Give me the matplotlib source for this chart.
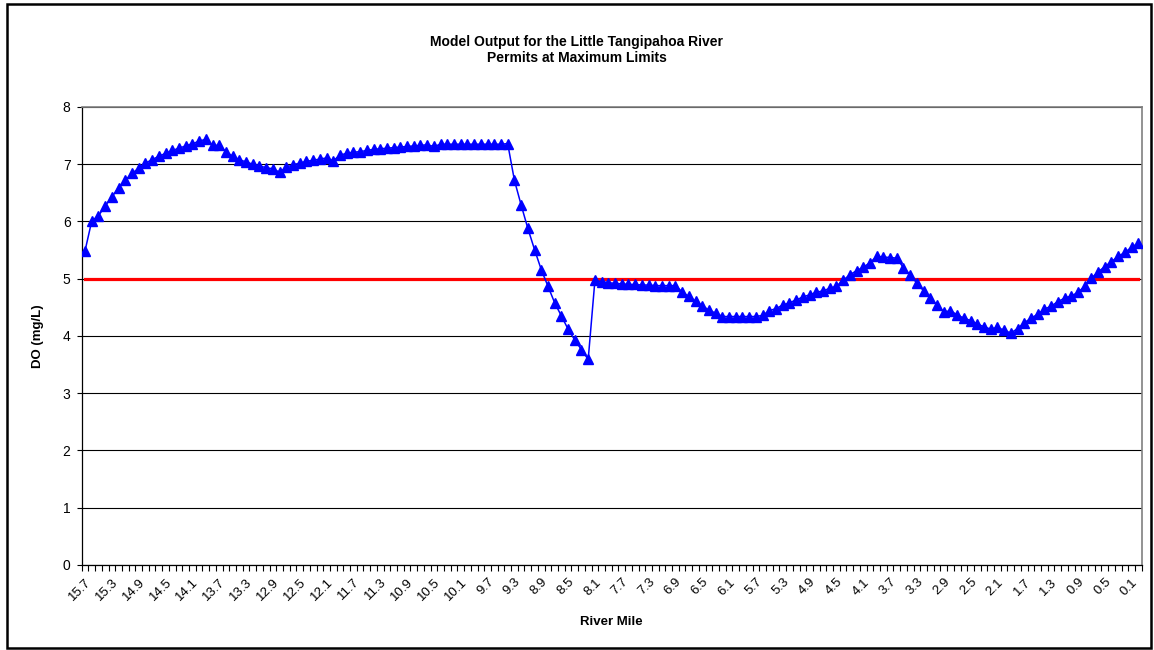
import matplotlib.pyplot as plt
from matplotlib.patches import Rectangle
import numpy as np

plt.rcParams['font.family'] = ['Liberation Sans', 'DejaVu Sans']

# river miles, 15.7 down to 0.0 in steps of 0.1
river_mile = [round(15.7 - 0.1 * i, 1) for i in range(158)]

# dissolved oxygen (mg/L)
do_values = [
    5.49, 6.01, 6.10, 6.27, 6.43, 6.59, 6.72, 6.84, 6.93, 7.02,
    7.08, 7.14, 7.19, 7.24, 7.28, 7.32, 7.36, 7.40, 7.44, 7.33,
    7.33, 7.22, 7.14, 7.08, 7.04, 7.00, 6.97, 6.94, 6.92, 6.86,
    6.95, 6.99, 7.02, 7.05, 7.07, 7.09, 7.11, 7.06, 7.16, 7.19,
    7.21, 7.22, 7.24, 7.26, 7.27, 7.28, 7.29, 7.30, 7.31, 7.32,
    7.33, 7.34, 7.31, 7.35, 7.35, 7.35, 7.35, 7.35, 7.35, 7.35,
    7.35, 7.35, 7.35, 7.36, 6.72, 6.29, 5.88, 5.51, 5.16, 4.87,
    4.58, 4.35, 4.12, 3.93, 3.76, 3.59, 4.97, 4.95, 4.93, 4.92,
    4.91, 4.90, 4.90, 4.89, 4.89, 4.88, 4.88, 4.88, 4.88, 4.77,
    4.69, 4.61, 4.53, 4.45, 4.40, 4.34, 4.34, 4.34, 4.34, 4.34,
    4.34, 4.36, 4.44, 4.48, 4.54, 4.58, 4.63, 4.68, 4.72, 4.76,
    4.79, 4.83, 4.87, 4.97, 5.07, 5.14, 5.20, 5.28, 5.39, 5.38,
    5.37, 5.36, 5.19, 5.07, 4.92, 4.79, 4.66, 4.54, 4.42, 4.44,
    4.37, 4.31, 4.27, 4.21, 4.16, 4.12, 4.15, 4.10, 4.05, 4.13,
    4.23, 4.31, 4.38, 4.47, 4.52, 4.60, 4.66, 4.70, 4.76, 4.87,
    5.01, 5.12, 5.21, 5.30, 5.39, 5.46, 5.55, 5.62,
]

# DO criterion
criterion = [5.0] * len(river_mile)

x = np.arange(len(river_mile))

fig = plt.figure(figsize=(11.54, 6.5), dpi=100)
ax = fig.add_axes([0.0708, 0.1308, 0.9185, 0.7046])

ax.plot(x, criterion, color='#ff0000', lw=2.3, zorder=3)
ax.plot(x, do_values, color='#0000ff', lw=1.1, marker='^', markersize=6.5,
        markerfacecolor='#0000ff', markeredgecolor='#0000ff', zorder=4)

ax.set_xlim(-0.5, len(x) - 0.5)
ax.set_ylim(0, 8)
ax.set_yticks(range(0, 9))
ax.tick_params(axis='y', labelsize=10, length=3.5, width=0.8, pad=4.5)

# labels every 4th category, tick marks between every category
ax.set_xticks(x[::4])
ax.set_xticklabels([f"{m:.1f}" for m in river_mile[::4]], rotation=45,
                   ha='right', rotation_mode='anchor', fontsize=9.5)
ax.set_xticks(np.arange(len(x) + 1) - 0.5, minor=True)
ax.tick_params(axis='x', which='major', length=0, pad=8)
ax.tick_params(axis='x', which='minor', length=4, width=0.8)

ax.grid(axis='y', color='black', lw=0.8)
ax.set_axisbelow(True)
for side in ['top', 'right']:
    ax.spines[side].set_color('#808080')
    ax.spines[side].set_linewidth(1.2)
for side in ['left', 'bottom']:
    ax.spines[side].set_color('black')
    ax.spines[side].set_linewidth(0.9)

ax.set_ylabel("DO (mg/L)", fontsize=9.5, fontweight='bold')
ax.yaxis.set_label_coords(-0.036, 0.5)
ax.set_xlabel("River Mile", fontsize=9.5, fontweight='bold')
ax.xaxis.set_label_coords(0.5, -0.111)

fig.text(0.5, 1 - 50 / 650, "Model Output for the Little Tangipahoa River\nPermits at Maximum Limits",
         ha='center', va='center', fontsize=10, fontweight='bold', linespacing=1.25)

fig.patches.append(Rectangle((7 / 1154, 2 / 650), 1144 / 1154, 644 / 650, transform=fig.transFigure,
                             fill=False, edgecolor='black', lw=1.8))

plt.savefig("out.png", dpi=100)
